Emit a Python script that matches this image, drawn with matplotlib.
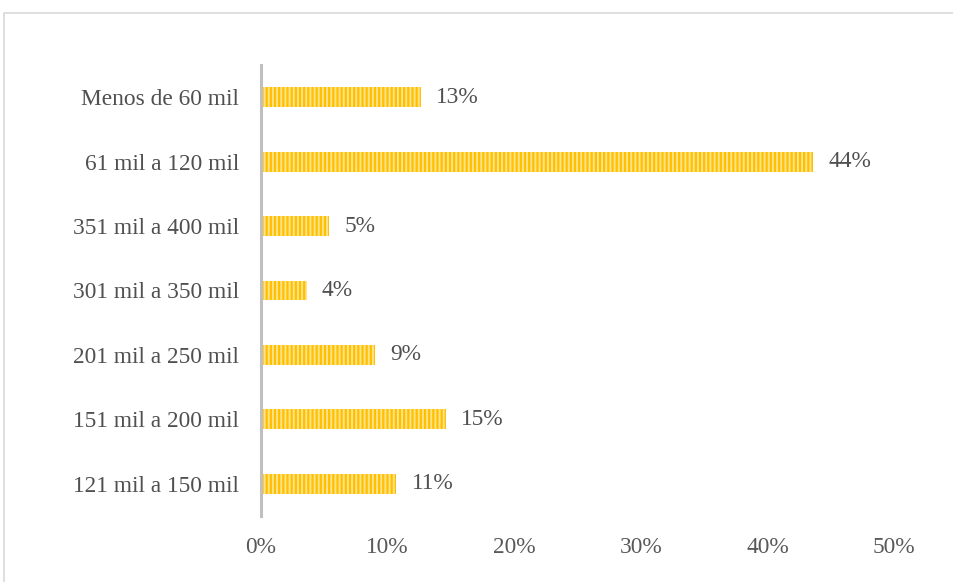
import matplotlib.pyplot as plt
import matplotlib.patches as mpatches
from matplotlib.ticker import FuncFormatter

categorias = ['Menos de 60 mil', '61 mil a 120 mil', '351 mil a 400 mil',
              '301 mil a 350 mil', '201 mil a 250 mil', '151 mil a 200 mil',
              '121 mil a 150 mil']
porcentagens = [12.6, 43.6, 5.4, 3.6, 9.0, 14.6, 10.7]

plt.rcParams['font.family'] = ['Liberation Serif', 'DejaVu Serif']
plt.rcParams['hatch.linewidth'] = 1.4
plt.rcParams['hatch.color'] = '#ffe38a'

fs = 16.8
fig = plt.figure(figsize=(9.54, 5.82), dpi=100)
ax = fig.add_axes([261/954, 1 - 516/582, (894 - 261)/954, (516 - 65)/582])

# moldura externa
fig.patches.append(mpatches.Rectangle((4/954, -0.05), 1.2, 1 - 13/582 + 0.05,
                                      transform=fig.transFigure, fill=False,
                                      edgecolor='#d9d9d9', linewidth=1.2))

pos = list(range(len(categorias)))[::-1]
bars = ax.barh(pos, porcentagens, height=0.31, color='#ffc000',
               edgecolor='#ffe38a', linewidth=0, hatch='||||')

for y, v in zip(pos, porcentagens):
    ax.text(v + 1.2, y, f'{v:.0f}%', va='center', ha='left',
            fontsize=fs, color='#505050')

ax.set_yticks(pos)
ax.set_yticklabels(categorias, fontsize=fs, color='#505050')
ax.set_ylim(-0.5, 6.5)
ax.set_xlim(0, 50)
ax.set_xticks(range(0, 51, 10))
ax.xaxis.set_major_formatter(FuncFormatter(lambda x, p: f'{x:.0f}%'))
ax.tick_params(axis='x', labelsize=fs, labelcolor='#595959', length=0, pad=15)
ax.tick_params(axis='y', length=0, pad=16)

for s in ['top', 'right', 'bottom']:
    ax.spines[s].set_visible(False)
ax.spines['left'].set_color('#bfbfbf')
ax.spines['left'].set_linewidth(2.2)

fig.savefig('out.png', dpi=100)
